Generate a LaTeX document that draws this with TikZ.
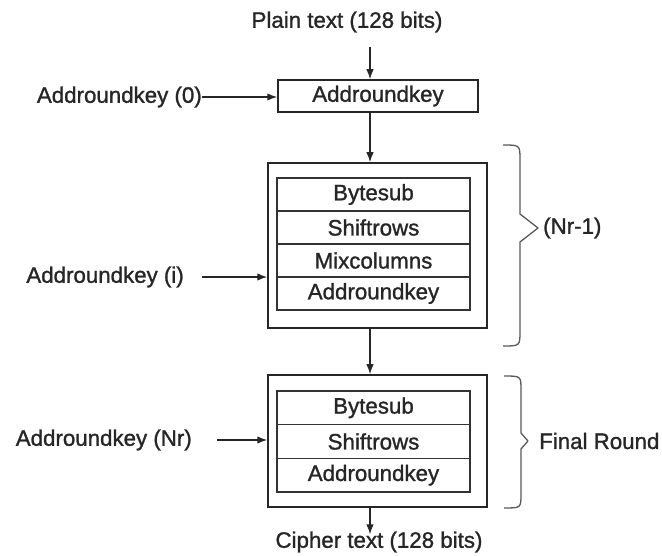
\documentclass[tikz,border=0pt]{standalone}
\usepackage{fontspec}
\newfontfamily\labelfont{Liberation Sans}[FakeBold=1.2]
\usetikzlibrary{arrows.meta}
\begin{document}
\begin{tikzpicture}[x=1pt,y=-1pt,
  every node/.style={font=\labelfont\fontsize{22.3}{25}\selectfont, text=black!85},
  lbl/.style={inner sep=0pt},
  boxframe/.style={draw=black!85, line width=1.5pt, minimum width=#1, inner sep=0pt},
  rowbox/.style={draw=black!80, line width=1.5pt, minimum width=193pt, minimum height=33pt, inner sep=0pt},
  arr/.style={draw=black!85, line width=1.4pt, -{Latex[length=10pt,width=7.5pt]}},
  brace/.style={draw=black!65, line width=1.3pt, line join=round}]
\useasboundingbox[fill=white] (0,0) rectangle (662,556);

% input block
\node[lbl] (title) at (347,22) {Plain text (128 bits)};
\coordinate (mid) at (370,47);
\node[boxframe=200pt, minimum height=32pt] (ark0) at (378,96) {Addroundkey};
\node[lbl, anchor=east] (k0) at (202,97) {Addroundkey (0)};

% main rounds
\node[boxframe=219pt, minimum height=165pt] (round) at (377.5,245.5) {};
\node[rowbox] (bs1) at (373.5,194.5) {Bytesub};
\node[rowbox] (sr1) at (373.5,227.5) {Shiftrows};
\node[rowbox] (mc1) at (373.5,260.5) {Mixcolumns};
\node[rowbox] (ak1) at (373.5,293.5) {Addroundkey};
\node[lbl, anchor=east] (ki) at (184,277) {Addroundkey (i)};
\coordinate (kis) at (202,277);

% final round
\node[boxframe=219pt, minimum height=132pt] (final) at (377.5,441) {};
\node[rowbox, minimum height=33.7pt] (bs2) at (373.5,407.8) {Bytesub};
\node[rowbox, minimum height=33.7pt] (sr2) at (373.5,441.5) {Shiftrows};
\node[rowbox, minimum height=33.7pt] (ak2) at (373.5,475.2) {Addroundkey};
\node[lbl, anchor=east] (kn) at (192,440) {Addroundkey (Nr)};
\coordinate (kns) at (217,440);

\node[lbl] (cipher) at (379,542) {Cipher text (128 bits)};

% data flow
\draw[arr] (mid) -- (mid |- ark0.north);
\draw[arr] (ark0.south -| mid) -- (round.north -| mid);
\draw[arr] (round.south -| mid) -- (final.north -| mid);
\draw[arr] (final.south -| mid) -- ([yshift=-3pt]cipher.north -| mid);

% round keys
\draw[arr] (k0.east) -- (k0.east -| ark0.west);
\draw[arr] (kis) -- (kis -| round.west);
\draw[arr] (kns) -- (kns -| final.west);

% braces
\draw[brace] (503,145) .. controls (520,145) .. (520,160) -- (520,214) -- (538,228)
  -- (520,242) -- (520,331) .. controls (520,346) .. (503,346);
\node[lbl, anchor=west] (nr1) at (543,228) {(Nr-1)};
\draw[brace] (504,376) .. controls (521,376) .. (521,390) -- (521,433) -- (528,441)
  -- (521,449) -- (521,494) .. controls (521,508) .. (504,508);
\node[lbl, anchor=west] (fr) at (539,441) {Final Round};
\end{tikzpicture}
\end{document}
